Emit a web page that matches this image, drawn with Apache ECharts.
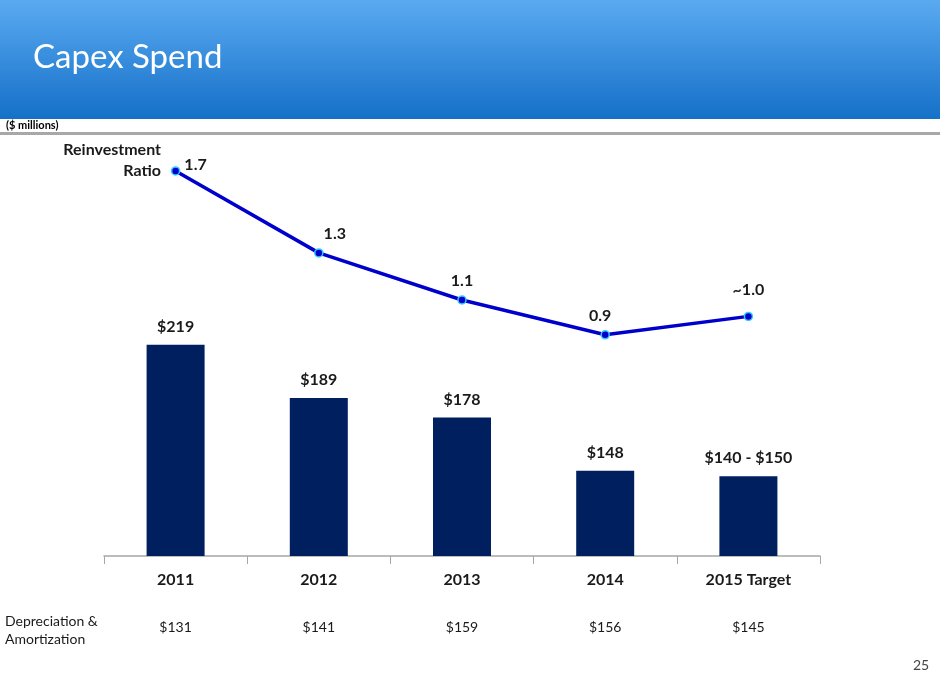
<!DOCTYPE html>
<html>
<head>
<meta charset="utf-8">
<script src="https://cdn.jsdelivr.net/npm/echarts@6/dist/echarts.min.js"></script>
<style>
  html, body { margin: 0; padding: 0; background: #fff; }
  #chart { width: 940px; height: 686px; }
</style>
</head>
<body>
<div id="chart"></div>
<script>
const years = ["2011", "2012", "2013", "2014", "2015 Target"];
const capex = [219, 189, 178, 148, 145];
const capexLabels = ["$219", "$189", "$178", "$148", "$140 - $150"];
const ratio = [1.7, 1.3, 1.07, 0.9, 0.99];
const ratioLabels = ["1.7", "1.3", "1.1", "0.9", "~1.0"];
const depAmort = ["$131", "$141", "$159", "$156", "$145"];

const font = "Lato, 'Open Sans', sans-serif";

let chartDom = document.getElementById("chart");
let myChart = echarts.init(chartDom);

// first point label sits to the right, last one a bit higher
const ratioData = ratio.map(function (v, i) {
  if (i === 0) return { value: v, label: { position: "right", distance: 4, offset: [0, -6] } };
  if (i === 1) return { value: v, label: { offset: [16, 0] } };
  if (i === 3) return { value: v, label: { offset: [-5, 0] } };
  if (i === 4) return { value: v, label: { distance: 14 } };
  return v;
});

let option = {
  animation: false,
  textStyle: { fontFamily: font },
  graphic: [
    {
      type: "rect",
      shape: { x: 0, y: 0, width: 940, height: 119 },
      style: {
        fill: new echarts.graphic.LinearGradient(0, 0, 0, 1, [
          { offset: 0, color: "#5aaaf1" },
          { offset: 1, color: "#1570c8" },
        ]),
      },
      silent: true,
    },
    {
      type: "rect",
      shape: { x: 0, y: 132, width: 940, height: 3 },
      style: { fill: "#a8a8a8" },
      silent: true,
    },
    {
      type: "text",
      left: 33,
      top: 41,
      style: { text: "Capex Spend", fill: "#fff", font: "33px " + font },
    },
    {
      type: "text",
      left: 6,
      top: 120,
      style: { text: "($ millions)", fill: "#000", font: "bold 11px " + font },
    },
    {
      type: "text",
      x: 161,
      y: 142,
      style: { text: "Reinvestment", fill: "#1a1a1a", align: "right", font: "bold 16px " + font },
    },
    {
      type: "text",
      x: 161,
      y: 163,
      style: { text: "Ratio", fill: "#1a1a1a", align: "right", font: "bold 16px " + font },
    },
    {
      type: "text",
      left: 5,
      top: 612,
      style: {
        text: "Depreciation &\nAmortization",
        fill: "#1a1a1a",
        lineHeight: 18,
        font: "14px " + font,
      },
    },
    {
      type: "text",
      left: 913,
      top: 658,
      style: { text: "25", fill: "#444", font: "14px " + font },
    },
  ],
  grid: { left: 104, right: 120, top: 130, bottom: 130 },
  xAxis: [
    {
      type: "category",
      data: years,
      boundaryGap: true,
      axisLine: { show: true, onZero: false, lineStyle: { color: "#a6a6a6", width: 1.5 } },
      axisTick: { show: true, interval: 0, inside: false, length: 8, lineStyle: { color: "#a6a6a6", width: 1 } },
      axisLabel: { color: "#1a1a1a", fontWeight: "bold", fontSize: 16, margin: 16 },
    },
    {
      type: "category",
      data: depAmort,
      position: "bottom",
      offset: 56,
      axisLine: { show: false },
      axisTick: { show: false },
      axisLabel: { color: "#1a1a1a", fontSize: 14, margin: 8 },
    },
  ],
  yAxis: [
    { type: "value", min: 100, max: 340, show: false, splitLine: { show: false } },
    { type: "value", min: -0.18, max: 1.9, show: false, splitLine: { show: false } },
  ],
  series: [
    {
      type: "bar",
      data: capex,
      barWidth: 58,
      itemStyle: { color: "#001f5f" },
      label: {
        show: true,
        position: "top",
        distance: 10,
        color: "#1a1a1a",
        fontWeight: "bold",
        fontSize: 16,
        formatter: (p) => capexLabels[p.dataIndex],
      },
    },
    {
      type: "line",
      yAxisIndex: 1,
      data: ratioData,
      symbol: "circle",
      symbolSize: 8,
      lineStyle: { color: "#0000cc", width: 3.5 },
      itemStyle: { color: "#0000cc", borderColor: "#33ccff", borderWidth: 1.5 },
      label: {
        show: true,
        position: "top",
        distance: 6,
        color: "#1a1a1a",
        fontWeight: "bold",
        fontSize: 16,
        formatter: (p) => ratioLabels[p.dataIndex],
      },
    },
  ],
};
option && myChart.setOption(option);
</script>
</body>
</html>
